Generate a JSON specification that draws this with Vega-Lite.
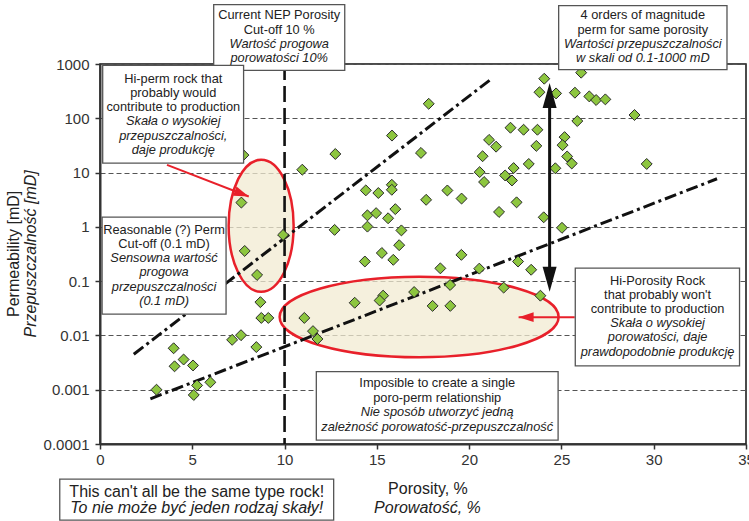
{
  "$schema": "https://vega.github.io/schema/vega-lite/v6.json",
  "width": 646,
  "height": 380,
  "autosize": {"type": "none"},
  "padding": {"left": 100, "top": 64, "right": 3, "bottom": 77},
  "background": "white",
  "config": {
    "font": "Liberation Sans",
    "view": {"stroke": "#111", "strokeWidth": 1.5}
  },
  "datasets": {
    "points": [
      {"x": 7.77, "y": 21}, {"x": 10.96, "y": 11.3}, {"x": 12.75, "y": 22}, {"x": 7.66, "y": 2.8},
      {"x": 9.92, "y": 0.71}, {"x": 12.71, "y": 0.88}, {"x": 14.4, "y": 4.7}, {"x": 15.08, "y": 4.2},
      {"x": 14.49, "y": 1.63}, {"x": 14.96, "y": 1.79}, {"x": 14.49, "y": 1.01}, {"x": 7.84, "y": 0.36},
      {"x": 14.35, "y": 0.23}, {"x": 8.51, "y": 0.13}, {"x": 8.69, "y": 0.041}, {"x": 8.74, "y": 0.021},
      {"x": 9.12, "y": 0.021}, {"x": 11.07, "y": 0.021}, {"x": 11.54, "y": 0.012}, {"x": 11.78, "y": 0.0086},
      {"x": 13.8, "y": 0.04}, {"x": 15.34, "y": 0.054}, {"x": 15.15, "y": 0.044}, {"x": 3.99, "y": 0.0058},
      {"x": 4.04, "y": 0.0027}, {"x": 4.53, "y": 0.0036}, {"x": 5.04, "y": 0.0028}, {"x": 3.06, "y": 0.001},
      {"x": 5.26, "y": 0.0012}, {"x": 5.08, "y": 0.0008}, {"x": 5.98, "y": 0.00137}, {"x": 7.16, "y": 0.0083},
      {"x": 7.64, "y": 0.0101}, {"x": 8.47, "y": 0.0061}, {"x": 24.07, "y": 536}, {"x": 23.81, "y": 302},
      {"x": 24.71, "y": 287}, {"x": 26.07, "y": 692}, {"x": 25.73, "y": 296}, {"x": 26.51, "y": 253},
      {"x": 26.88, "y": 217}, {"x": 27.38, "y": 223}, {"x": 28.96, "y": 115}, {"x": 17.81, "y": 185},
      {"x": 25.86, "y": 89}, {"x": 15.82, "y": 48}, {"x": 22.24, "y": 67}, {"x": 22.95, "y": 61.5},
      {"x": 23.7, "y": 61.5}, {"x": 21.08, "y": 40}, {"x": 21.46, "y": 30}, {"x": 23.64, "y": 31},
      {"x": 25.17, "y": 45}, {"x": 25.06, "y": 32}, {"x": 17.39, "y": 23}, {"x": 20.73, "y": 20},
      {"x": 25.31, "y": 19.8}, {"x": 25.56, "y": 14.7}, {"x": 29.62, "y": 14.4}, {"x": 23.23, "y": 14.4},
      {"x": 22.41, "y": 12.1}, {"x": 24.67, "y": 12}, {"x": 20.57, "y": 10.2}, {"x": 21.95, "y": 8.85},
      {"x": 22.32, "y": 7.15}, {"x": 20.81, "y": 6.7}, {"x": 15.81, "y": 5.96}, {"x": 15.81, "y": 4.82},
      {"x": 18.82, "y": 4.68}, {"x": 17.67, "y": 3.15}, {"x": 19.59, "y": 3.32}, {"x": 22.57, "y": 2.83},
      {"x": 16.0, "y": 2.12}, {"x": 15.61, "y": 1.44}, {"x": 21.62, "y": 1.88}, {"x": 24.04, "y": 1.5},
      {"x": 25.03, "y": 0.96}, {"x": 16.33, "y": 0.86}, {"x": 16.21, "y": 0.46}, {"x": 15.27, "y": 0.33},
      {"x": 15.89, "y": 0.247}, {"x": 19.58, "y": 0.305}, {"x": 18.44, "y": 0.172}, {"x": 20.55, "y": 0.17},
      {"x": 22.65, "y": 0.23}, {"x": 23.36, "y": 0.162}, {"x": 18.97, "y": 0.085}, {"x": 21.87, "y": 0.076},
      {"x": 17.02, "y": 0.063}, {"x": 23.86, "y": 0.054}, {"x": 18.02, "y": 0.035}, {"x": 18.98, "y": 0.035}
    ],
    "trend": [
      {"id": "upper", "x": 1.83, "y": 0.0045}, {"id": "upper", "x": 21.15, "y": 514},
      {"id": "lower", "x": 2.73, "y": 0.00068}, {"id": "lower", "x": 33.43, "y": 7.69}
    ],
    "vline": [{"x": 10, "y": 1000, "y2": 0.0001}],
    "ellipses": [
      {"id": "hiperm", "x": 8.73, "y": 1.045},
      {"id": "hipor", "x": 17.29, "y": 0.0219}
    ],
    "shafts": [
      {"id": "range", "x": 24.36, "y": 194, "x2": 24.36, "y2": 0.15},
      {"id": "red1", "x": 3.63, "y": 13.9, "x2": 8.06, "y2": 3.62},
      {"id": "red2", "x": 25.72, "y": 0.0217, "x2": 22.68, "y2": 0.0217}
    ],
    "heads": [
      {"id": "range_top", "x": 24.36, "y": 447},
      {"id": "range_bottom", "x": 24.36, "y": 0.064},
      {"id": "red1", "x": 8.06, "y": 3.62},
      {"id": "red2", "x": 22.68, "y": 0.0217}
    ],
    "boxes": [
      {"id": "A", "x": 6.16, "x2": 13.26, "y": 12400, "y2": 762},
      {"id": "B", "x": 24.85, "x2": 33.97, "y": 11890, "y2": 786},
      {"id": "C", "x": 0.146, "x2": 7.78, "y": 944, "y2": 14.96},
      {"id": "D", "x": 0.114, "x2": 6.83, "y": 1.513, "y2": 0.0246},
      {"id": "E", "x": 25.75, "x2": 34.65, "y": 0.1733, "y2": 0.00274},
      {"id": "F", "x": 11.72, "x2": 24.82, "y": 0.00215, "y2": 0.000118},
      {"id": "G", "x": -2.18, "x2": 12.66, "y": 2.26e-5, "y2": 3.97e-6}
    ],
    "texts": [
      {"kind": "box", "style": "n", "x": 9.71, "y": 7870, "t": ["Current NEP Porosity", "Cut-off 10 %"]},
      {"kind": "box", "style": "i", "x": 9.71, "y": 2340, "t": ["Wartość progowa", "porowatości 10%"]},
      {"kind": "box", "style": "n", "x": 29.41, "y": 7870, "t": ["4 orders of magnitude", "perm for same porosity"]},
      {"kind": "box", "style": "i", "x": 29.41, "y": 2340, "t": ["Wartości przepuszczalności", "w skali od  0.1-1000 mD"]},
      {"kind": "box", "style": "n", "x": 3.97, "y": 536, "t": ["Hi-perm rock that", "probably would", "contribute to production"]},
      {"kind": "box", "style": "i", "x": 3.97, "y": 87.5, "t": ["Skała o wysokiej", "przepuszczalności,", "daje produkcję"]},
      {"kind": "box", "style": "n", "x": 3.47, "y": 0.881, "t": ["Reasonable (?) Perm", "Cut-off (0.1 mD)"]},
      {"kind": "box", "style": "i", "x": 3.47, "y": 0.2655, "t": ["Sensowna wartość", "progowa", "przepuszczalności", "(0.1 mD)"]},
      {"kind": "box", "style": "n", "x": 30.21, "y": 0.1026, "t": ["Hi-Porosity Rock", "that probably won't", "contribute to production"]},
      {"kind": "box", "style": "i", "x": 30.21, "y": 0.0168, "t": ["Skała o wysokiej", "porowatości, daje", "prawdopodobnie produkcję"]},
      {"kind": "box", "style": "n", "x": 18.27, "y": 0.001315, "t": ["Imposible to create a single", "poro-perm relationship"]},
      {"kind": "box", "style": "i", "x": 18.27, "y": 0.000384, "t": ["Nie sposób utworzyć jedną", "zależność porowatość-przepuszczalność"]},
      {"kind": "big", "style": "n", "x": 5.24, "y": 1.287e-5, "t": "This can't all be the same type rock!"},
      {"kind": "big", "style": "i", "x": 5.24, "y": 6.52e-6, "t": "To nie może być jeden rodzaj skały!"},
      {"kind": "big", "style": "n", "x": 17.77, "y": 1.462e-5, "t": "Porosity, %"},
      {"kind": "big", "style": "i", "x": 17.74, "y": 6.69e-6, "t": "Porowatość, %"},
      {"kind": "ytitle", "style": "n", "x": -4.675, "y": 0.318, "t": "Permeability [mD]"},
      {"kind": "ytitle", "style": "i", "x": -3.73, "y": 0.318, "t": "Przepuszczalność [mD]"}
    ]
  },
  "encoding": {
    "x": {
      "field": "x", "type": "quantitative",
      "scale": {"domain": [0, 35], "nice": false, "zero": false},
      "axis": {
        "values": [0, 5, 10, 15, 20, 25, 30, 35], "grid": false, "title": null, "labelFlush": false,
        "domainColor": "#333", "domainWidth": 2, "tickColor": "#333", "tickWidth": 1.5, "tickSize": 5,
        "labelFontSize": 15, "labelColor": "#333", "labelPadding": 3, "labelFont": "Liberation Sans"
      }
    },
    "y": {
      "field": "y", "type": "quantitative",
      "scale": {"type": "log", "domain": [0.0001, 1000], "nice": false},
      "axis": {
        "values": [0.0001, 0.001, 0.01, 0.1, 1, 10, 100, 1000], "format": "~g", "title": null, "labelFlush": false,
        "grid": true, "gridColor": "#555", "gridDash": [5, 3], "gridWidth": 1,
        "domainColor": "#333", "domainWidth": 2, "tickColor": "#333", "tickWidth": 1.5, "tickSize": 5,
        "labelFontSize": 15, "labelColor": "#333", "labelPadding": 6, "labelFont": "Liberation Sans"
      }
    }
  },
  "layer": [
    {
      "data": {"name": "ellipses"},
      "transform": [{"filter": "datum.id === 'hiperm'"}],
      "mark": {"type": "point", "filled": true, "clip": false,
        "shape": "M0.4924,0C0.4924,0.5523,0.272,1,0,1C-0.272,1,-0.4924,0.5523,-0.4924,0C-0.4924,-0.5523,-0.272,-1,0,-1C0.272,-1,0.4924,-0.5523,0.4924,0Z",
        "size": 17424, "fill": "#F1EBD1", "fillOpacity": 0.75, "stroke": "#E8202A", "strokeWidth": 2.5, "opacity": 1}
    },
    {
      "data": {"name": "ellipses"},
      "transform": [{"filter": "datum.id === 'hipor'"}],
      "mark": {"type": "point", "filled": true, "clip": false,
        "shape": "M1,0C1,0.1596,0.5523,0.2889,0,0.2889C-0.5523,0.2889,-1,0.1596,-1,0C-1,-0.1596,-0.5523,-0.2889,0,-0.2889C0.5523,-0.2889,1,-0.1596,1,0Z",
        "size": 77841, "fill": "#F1EBD1", "fillOpacity": 0.75, "stroke": "#E8202A", "strokeWidth": 2.5, "opacity": 1}
    },
    {
      "data": {"name": "vline"},
      "mark": {"type": "rule", "color": "#111", "strokeWidth": 2.6, "strokeDash": [16, 6]},
      "encoding": {"y2": {"field": "y2"}}
    },
    {
      "data": {"name": "trend"},
      "mark": {"type": "line", "color": "#111", "strokeWidth": 3, "strokeDash": [12, 4, 3, 4], "clip": false},
      "encoding": {"detail": {"field": "id"}}
    },
    {
      "data": {"name": "points"},
      "mark": {"type": "point", "shape": "diamond", "filled": true, "size": 120, "fill": "#8DC63F", "stroke": "#2a2a2a", "strokeWidth": 1, "opacity": 1}
    },
    {
      "data": {"name": "shafts"},
      "transform": [{"filter": "datum.id === 'range'"}],
      "mark": {"type": "rule", "color": "#111", "strokeWidth": 3},
      "encoding": {"x2": {"field": "x2"}, "y2": {"field": "y2"}}
    },
    {
      "data": {"name": "heads"},
      "transform": [{"filter": "datum.id === 'range_top'"}],
      "mark": {"type": "point", "filled": true, "shape": "M0,0L-0.28,1L0.28,1Z", "size": 2500, "fill": "#111", "stroke": null, "opacity": 1}
    },
    {
      "data": {"name": "heads"},
      "transform": [{"filter": "datum.id === 'range_bottom'"}],
      "mark": {"type": "point", "filled": true, "shape": "M0,0L-0.28,-1L0.28,-1Z", "size": 2500, "fill": "#111", "stroke": null, "opacity": 1}
    },
    {
      "data": {"name": "shafts"},
      "transform": [{"filter": "datum.id !== 'range'"}],
      "mark": {"type": "rule", "color": "#E8202A", "strokeWidth": 2},
      "encoding": {"x2": {"field": "x2"}, "y2": {"field": "y2"}}
    },
    {
      "data": {"name": "heads"},
      "transform": [{"filter": "datum.id === 'red1'"}],
      "mark": {"type": "point", "filled": true, "shape": "M0,0L-0.33,1L0.33,1Z", "size": 900, "angle": 111, "fill": "#E8202A", "stroke": null, "opacity": 1}
    },
    {
      "data": {"name": "heads"},
      "transform": [{"filter": "datum.id === 'red2'"}],
      "mark": {"type": "point", "filled": true, "shape": "M0,0L-0.33,1L0.33,1Z", "size": 900, "angle": 270, "fill": "#E8202A", "stroke": null, "opacity": 1}
    },
    {
      "data": {"name": "boxes"},
      "mark": {"type": "rect", "fill": "white", "stroke": "#555", "strokeWidth": 1.3, "clip": false},
      "encoding": {"x2": {"field": "x2"}, "y2": {"field": "y2"}}
    },
    {
      "data": {"name": "texts"},
      "transform": [{"filter": "datum.kind === 'box' && datum.style === 'n'"}],
      "mark": {"type": "text", "font": "Liberation Sans", "fontSize": 12.8, "lineHeight": 14.3, "color": "#222", "align": "center", "baseline": "middle", "clip": false},
      "encoding": {"text": {"field": "t"}}
    },
    {
      "data": {"name": "texts"},
      "transform": [{"filter": "datum.kind === 'box' && datum.style === 'i'"}],
      "mark": {"type": "text", "font": "Liberation Sans", "fontSize": 12.8, "fontStyle": "italic", "lineHeight": 14.3, "color": "#222", "align": "center", "baseline": "middle", "clip": false},
      "encoding": {"text": {"field": "t"}}
    },
    {
      "data": {"name": "texts"},
      "transform": [{"filter": "datum.kind === 'big' && datum.style === 'n'"}],
      "mark": {"type": "text", "font": "Liberation Sans", "fontSize": 16, "color": "#222", "align": "center", "baseline": "middle", "clip": false},
      "encoding": {"text": {"field": "t"}}
    },
    {
      "data": {"name": "texts"},
      "transform": [{"filter": "datum.kind === 'big' && datum.style === 'i'"}],
      "mark": {"type": "text", "font": "Liberation Sans", "fontSize": 16, "fontStyle": "italic", "color": "#222", "align": "center", "baseline": "middle", "clip": false},
      "encoding": {"text": {"field": "t"}}
    },
    {
      "data": {"name": "texts"},
      "transform": [{"filter": "datum.kind === 'ytitle' && datum.style === 'n'"}],
      "mark": {"type": "text", "font": "Liberation Sans", "fontSize": 16, "angle": 270, "color": "#222", "align": "center", "baseline": "middle", "clip": false},
      "encoding": {"text": {"field": "t"}}
    },
    {
      "data": {"name": "texts"},
      "transform": [{"filter": "datum.kind === 'ytitle' && datum.style === 'i'"}],
      "mark": {"type": "text", "font": "Liberation Sans", "fontSize": 16, "fontStyle": "italic", "angle": 270, "color": "#222", "align": "center", "baseline": "middle", "clip": false},
      "encoding": {"text": {"field": "t"}}
    }
  ]
}
